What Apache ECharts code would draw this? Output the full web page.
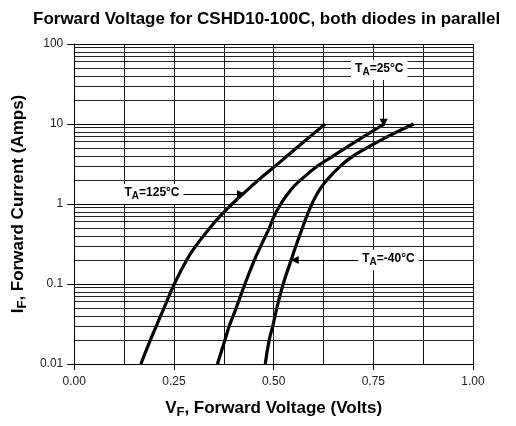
<!DOCTYPE html>
<html><head><meta charset="utf-8">
<script src="https://cdn.jsdelivr.net/npm/echarts@6/dist/echarts.min.js"></script>
<style>html,body{margin:0;padding:0;background:#fff}#c{width:516px;height:426px}</style>
</head><body><div id="c"></div>
<script>
// ---- data ----
const titleText = 'Forward Voltage for CSHD10-100C, both diodes in parallel';
const currentsA = [0.01, 0.02, 0.03, 0.05, 0.1, 0.2, 0.3, 0.5, 0.7, 1, 1.5, 2, 3, 4, 5, 7, 10];
const vf125 = [0.167, 0.191, 0.206, 0.225, 0.251, 0.282, 0.305, 0.340, 0.365, 0.396, 0.434, 0.462, 0.505, 0.534, 0.557, 0.592, 0.629];
const vf25  = [0.359, 0.378, 0.389, 0.406, 0.428, 0.452, 0.468, 0.489, 0.501, 0.518, 0.543, 0.568, 0.611, 0.650, 0.680, 0.727, 0.777];
const vfm40 = [0.479, 0.489, 0.498, 0.508, 0.524, 0.544, 0.556, 0.572, 0.583, 0.596, 0.615, 0.634, 0.668, 0.700, 0.733, 0.787, 0.851];
const xTickValues = [0, 0.25, 0.5, 0.75, 1];
const yTickLabels = ['0.01', '0.1', '1', '10', '100'];
const minorLogLines = [0.02,0.03,0.04,0.05,0.06,0.07,0.08,0.09,
                       0.2,0.3,0.4,0.5,0.6,0.7,0.8,0.9,
                       2,3,4,5,6,7,8,9,
                       20,30,40,50,60,70,80,90];
// annotations: temperature text, label centre, arrow start, arrow tip (V, A)
const annTemps = ['125°C', '25°C', '-40°C'];
const annLabelPos = [[0.195, 1.334], [0.765, 47.3], [0.788, 0.2]];
const annArrowFrom = [[0.271, 1.334], [0.776, 37.6], [0.718, 0.2]];
const annArrowTo   = [[0.418, 1.334], [0.776, 10.4], [0.553, 0.2]];

const FONT = 'Liberation Sans';
const pairs = vs => vs.map((v, i) => [v, currentsA[i]]);

const chart = echarts.init(document.getElementById('c'));
const curveStyle = { color: '#000', width: 3.2 };
const richLbl = {
  t: { fontFamily: FONT, fontSize: 12, fontWeight: 'bold', color: '#000', verticalAlign: 'top', lineHeight: 14 },
  s: { fontFamily: FONT, fontSize: 10, fontWeight: 'bold', color: '#000', verticalAlign: 'bottom', lineHeight: 14, padding: [7, 0, 0, 0] }
};
const nameRich = {
  n: { fontFamily: FONT, fontSize: 17, fontWeight: 'bold', color: '#000', verticalAlign: 'top', lineHeight: 19 },
  s: { fontFamily: FONT, fontSize: 13, fontWeight: 'bold', color: '#000', verticalAlign: 'bottom', lineHeight: 19, padding: [8, 0, 0, 0] }
};

chart.setOption({
  animation: false,
  backgroundColor: '#fff',
  title: {
    text: titleText, left: 28, top: 6,
    textStyle: { fontFamily: FONT, fontSize: 17, fontWeight: 'bold', color: '#000' }
  },
  grid: { left: 74, right: 43, top: 44, bottom: 62 },
  xAxis: {
    type: 'value', min: 0, max: 1, interval: 0.25,
    name: '{n|V}{s|F}{n|, Forward Voltage (Volts)}',
    nameLocation: 'middle', nameGap: 36,
    nameTextStyle: { rich: nameRich },
    axisLine: { show: true, lineStyle: { color: '#000', width: 1 } },
    axisTick: { show: true, length: 6, inside: false, lineStyle: { color: '#000' } },
    axisLabel: {
      margin: 12, fontFamily: FONT, fontSize: 12, color: '#222',
      formatter: v => { const i = xTickValues.indexOf(v); return i >= 0 ? xTickValues[i].toFixed(2) : ''; }
    },
    splitLine: { show: true, lineStyle: { color: '#111', width: 1 } },
    minorTick: { show: false, splitNumber: 2 },
    minorSplitLine: { show: true, lineStyle: { color: '#111', width: 1 } }
  },
  yAxis: {
    type: 'log', logBase: 10, min: 0.01, max: 100,
    name: '{n|I}{s|F}{n|, Forward Current (Amps)}',
    nameLocation: 'middle', nameGap: 43, nameRotate: 90,
    nameTextStyle: { rich: nameRich },
    axisLine: { show: true, lineStyle: { color: '#000', width: 1 } },
    axisTick: { show: true, length: 7, inside: false, lineStyle: { color: '#000' } },
    axisLabel: {
      margin: 11, fontFamily: FONT, fontSize: 12, color: '#222',
      formatter: v => { const k = Math.round(Math.log10(v)) + 2; return yTickLabels[k] !== undefined ? yTickLabels[k] : ''; }
    },
    splitLine: { show: true, lineStyle: { color: '#000', width: 1 } }
  },
  series: [
    {
      name: 'minorGrid', type: 'line', data: [], z: 1, silent: true,
      markLine: {
        silent: true, symbol: ['none', 'none'], animation: false,
        label: { show: false },
        lineStyle: { color: '#222', width: 1, type: 'solid' },
        data: minorLogLines.map(v => ({ yAxis: v }))
      }
    },
    { name: 'TA=125°C', type: 'line', data: pairs(vf125), smooth: 0.5, showSymbol: false, lineStyle: curveStyle, z: 3 },
    { name: 'TA=25°C', type: 'line', data: pairs(vf25), smooth: 0.5, showSymbol: false, lineStyle: curveStyle, z: 3 },
    { name: 'TA=-40°C', type: 'line', data: pairs(vfm40), smooth: 0.5, showSymbol: false, lineStyle: curveStyle, z: 3 },
    {
      name: 'annotations', type: 'line', data: [], z: 4, silent: true,
      markLine: {
        silent: true, animation: false,
        symbol: ['none', 'triangle'], symbolSize: 8,
        label: { show: false },
        lineStyle: { color: '#000', width: 1, type: 'solid' },
        itemStyle: { color: '#000' },
        data: annArrowFrom.map((p, i) => [{ coord: p }, { coord: annArrowTo[i] }])
      },
      markPoint: {
        silent: true, animation: false,
        symbol: 'rect', symbolSize: 1,
        itemStyle: { color: 'rgba(0,0,0,0)' },
        label: {
          show: true, position: 'inside',
          backgroundColor: '#fff', padding: [3, 4, 3, 4],
          rich: richLbl
        },
        data: annLabelPos.map((p, i) => ({
          coord: p,
          label: { formatter: '{t|T}{s|A}{t|=' + annTemps[i] + '}' }
        }))
      }
    }
  ]
});
</script></body></html>
